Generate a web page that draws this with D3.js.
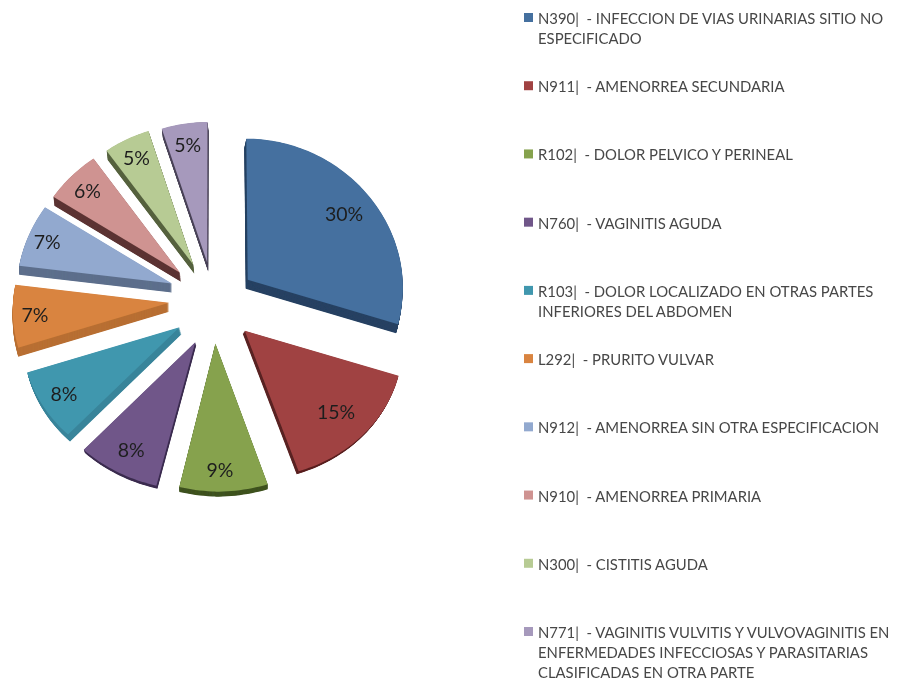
<!DOCTYPE html>
<html><head><meta charset="utf-8">
<script src="https://cdn.jsdelivr.net/npm/d3@7/dist/d3.min.js"></script>
<style>html,body{margin:0;background:#fff}svg{display:block}text{white-space:pre}</style>
</head><body><svg id="c" width="897" height="682"><defs><filter id="soft" x="-5%" y="-5%" width="110%" height="110%"><feGaussianBlur stdDeviation="0.45"/></filter></defs></svg>
<script>
const legendLines = [
 ["N390|  - INFECCION DE VIAS URINARIAS SITIO NO","ESPECIFICADO"],
 ["N911|  - AMENORREA SECUNDARIA"],
 ["R102|  - DOLOR PELVICO Y PERINEAL"],
 ["N760|  - VAGINITIS AGUDA"],
 ["R103|  - DOLOR LOCALIZADO EN OTRAS PARTES","INFERIORES DEL ABDOMEN"],
 ["L292|  - PRURITO VULVAR"],
 ["N912|  - AMENORREA SIN OTRA ESPECIFICACION"],
 ["N910|  - AMENORREA PRIMARIA"],
 ["N300|  - CISTITIS AGUDA"],
 ["N771|  - VAGINITIS VULVITIS Y VULVOVAGINITIS EN","ENFERMEDADES INFECCIOSAS Y PARASITARIAS","CLASIFICADAS EN OTRA PARTE"]
];
const values = [30,15,9,8,8,7,7,6,5,5];
const faceColors = ["#44709F","#A04343","#86A24E","#6F5689","#4197AE","#D9843F","#92A9CF","#CF9391","#B7CB94","#A699BC"];
const sideColors = ["#274263","#5A2121","#3F5220","#3C2D50","#38849A","#B86F32","#5D6F8C","#5C3433","#55623F","#4A4458"];
const depthX = [-2,-2,0,1,2,0,0,1,1,1];
const depthY = [9,3,5,3,7,9,9,9,9,9];
const labelFrac = [0.79,0.78,0.85,0.83,0.85,0.86,0.87,0.85,0.85,0.85];
const explodeBy = [42,43,44,47,44,45,47,47,46,44];
const explodeTurn = [0,0,0,-4,-5,5,6,0,0,0];

const svg = d3.select("#c");
const cx=214, cy=302.5, R=156, tilt=0.925, perspNear=2500, perspFar=3500, perspY=9000, lean=0.03;
// Projection of a point on the tilted pie plane to the screen, with mild perspective.
const project=(X,Y)=>{
  const s=1/(1-Y/(Y>0?perspNear:perspFar));
  const shift=(X<0&&Y>0)?lean*Y:0;
  return [cx+X*s+shift, cy+tilt*Y/(1-Y/perspY)];
};
const pie = d3.pie().sort(null).value(d=>d);
const arcs = pie(values);
const lineGen=d3.line();
const gPie = svg.append("g").attr("filter","url(#soft)");

arcs.forEach((a,i)=>{
  const mid=(a.startAngle+a.endAngle)/2;
  const dir=mid+explodeTurn[i]*Math.PI/180;
  const ox=explodeBy[i]*Math.sin(dir), oy=-explodeBy[i]*Math.cos(dir);
  const pts=[project(ox,oy)];
  const steps=Math.ceil((a.endAngle-a.startAngle)*40);
  d3.range(steps+1).forEach(s=>{
    const t=a.startAngle+(a.endAngle-a.startAngle)*s/steps;
    pts.push(project(ox+R*Math.sin(t),oy-R*Math.cos(t)));
  });
  const d=lineGen(pts)+"Z";
  const g=gPie.append("g");
  const n=Math.ceil(Math.hypot(depthX[i],depthY[i]))*2;
  d3.range(n,0,-1).forEach(k=>{
    g.append("path").attr("d",d).attr("transform",`translate(${depthX[i]*k/n},${depthY[i]*k/n})`).attr("fill",sideColors[i]);
  });
  g.append("path").attr("d",d).attr("fill",faceColors[i]);
  const lp=project(ox+labelFrac[i]*R*Math.sin(mid),oy-labelFrac[i]*R*Math.cos(mid));
  g.append("text").text(values[i]+"%").attr("x",lp[0]).attr("y",lp[1])
    .attr("text-anchor","middle").attr("dominant-baseline","central")
    .attr("font-family","Lato").attr("font-size",19.5).attr("fill","#1f1f1f");
});

const legendY=d3.scaleLinear().domain([0,9]).range([18,632]);
const gLeg=svg.append("g").attr("font-family","Lato").attr("font-size",14.85).attr("fill","#474747").attr("filter","url(#soft)");
legendLines.forEach((lines,i)=>{
  const y=legendY(i);
  gLeg.append("rect").attr("x",524).attr("y",y-5).attr("width",9).attr("height",9).attr("fill",faceColors[i]);
  lines.forEach((t,j)=>{
    gLeg.append("text").attr("x",538).attr("y",y+6+j*20).text(t);
  });
});
</script></body></html>
